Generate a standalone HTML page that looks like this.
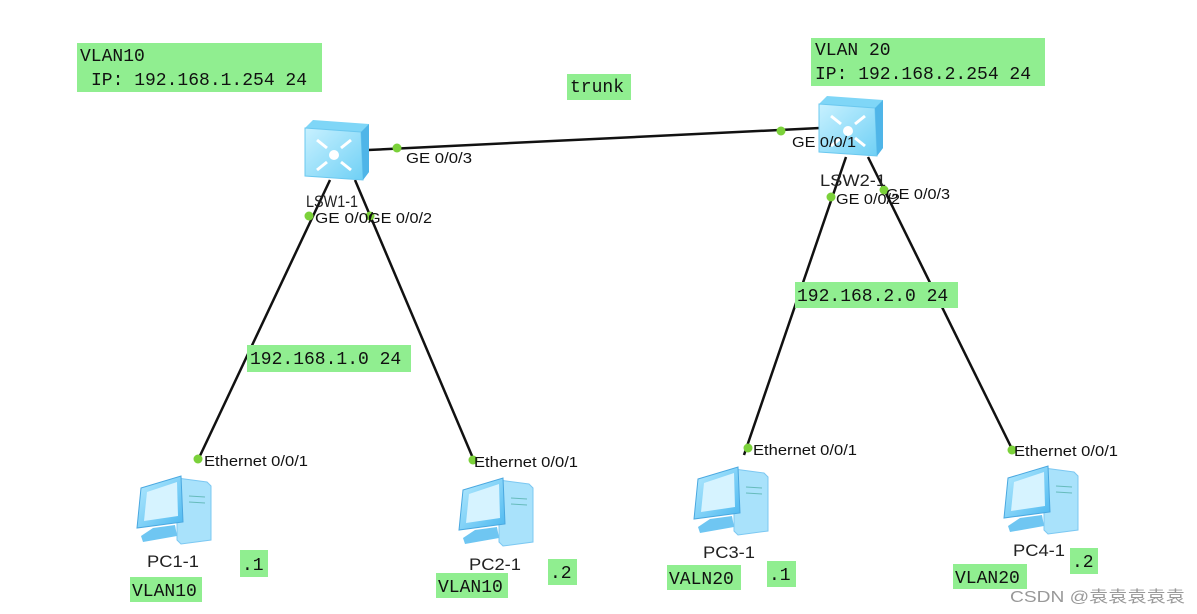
<!DOCTYPE html>
<html><head><meta charset="utf-8"><style>
html,body{margin:0;padding:0;background:#fff;}
svg{display:block;}
.m{font-family:"Liberation Mono",monospace;font-size:18px;fill:#111;}
.s{font-family:"Liberation Sans",sans-serif;font-size:15px;fill:#111;}
.p{font-family:"Liberation Sans",sans-serif;font-size:17px;fill:#222;}
.g{fill:#90ee90;}
</style></head><body>
<svg width="1197" height="614" viewBox="0 0 1197 614" xmlns="http://www.w3.org/2000/svg">
<defs>
<linearGradient id="sw" x1="0" y1="0" x2="1" y2="1"><stop offset="0" stop-color="#c8f1ff"/><stop offset="1" stop-color="#6fd0f5"/></linearGradient>
<linearGradient id="pcg" x1="0" y1="0" x2="1" y2="1"><stop offset="0" stop-color="#b8ecff"/><stop offset="1" stop-color="#4cb8f0"/></linearGradient>
<g id="pc">
<polygon points="44,8 74,12 78,16 78,70 48,74 44,70" fill="#a9e2fb" stroke="#7cc8f2"/>
<line x1="56" y1="26" x2="72" y2="27" stroke="#6bb" /><line x1="56" y1="32" x2="72" y2="33" stroke="#6bb"/>
<polygon points="8,18 48,6 50,52 4,58" fill="url(#pcg)" stroke="#4aa8e0"/>
<polygon points="14,22 44,12 45,46 11,51" fill="#d6f3ff"/>
<polygon points="20,58 42,55 44,66 10,72 8,66" fill="#6fc6f2"/>
</g>
<g id="sw1">
<polygon points="0,8 8,0 64,4 64,52 58,60 0,56" fill="#7fd6f7"/>
<polygon points="0,8 56,12 58,60 0,56" fill="url(#sw)" stroke="#6bc8ef"/>
<polygon points="56,12 64,4 64,52 58,60" fill="#4fb5e8"/>
<circle cx="29" cy="35" r="5" fill="#fff"/>
<path d="M12,20 l10,8 M12,50 l10,-8 M46,20 l-10,8 M46,50 l-10,-8" stroke="#fff" stroke-width="3"/>
</g>
</defs>
<g stroke="#111" stroke-width="2.5">
<line x1="368" y1="150" x2="820" y2="128"/>
<line x1="330" y1="180" x2="198" y2="460"/>
<line x1="355" y1="180" x2="475" y2="463"/>
<line x1="846" y1="157" x2="744" y2="455"/>
<line x1="868" y1="157" x2="1014" y2="453"/>
</g>
<use href="#sw1" x="305" y="120"/>
<use href="#sw1" x="819" y="96"/>
<use href="#pc" x="133" y="470"/>
<use href="#pc" x="455" y="472"/>
<use href="#pc" x="690" y="461"/>
<use href="#pc" x="1000" y="460"/>
<g fill="#7bd13a">
<circle cx="397" cy="148" r="4.5"/><circle cx="781" cy="131" r="4.5"/>
<circle cx="309" cy="216" r="4.5"/><circle cx="370" cy="216" r="4.5"/>
<circle cx="831" cy="197" r="4.5"/><circle cx="884" cy="190" r="4.5"/>
<circle cx="198" cy="459" r="4.5"/><circle cx="473" cy="460" r="4.5"/>
<circle cx="748" cy="448" r="4.5"/><circle cx="1012" cy="450" r="4.5"/>
</g>
<text class="s" x="406" y="163" textLength="66" lengthAdjust="spacingAndGlyphs">GE 0/0/3</text>
<text class="s" x="792" y="147" textLength="64" lengthAdjust="spacingAndGlyphs">GE 0/0/1</text>
<text class="s" x="315" y="223" textLength="58" lengthAdjust="spacingAndGlyphs">GE 0/0/</text>
<text class="s" x="368" y="223" textLength="64" lengthAdjust="spacingAndGlyphs">GE 0/0/2</text>
<text class="s" x="836" y="204" textLength="64" lengthAdjust="spacingAndGlyphs">GE 0/0/2</text>
<text class="s" x="886" y="199" textLength="64" lengthAdjust="spacingAndGlyphs">GE 0/0/3</text>
<text class="s" x="204" y="466" textLength="104" lengthAdjust="spacingAndGlyphs">Ethernet 0/0/1</text>
<text class="s" x="474" y="467" textLength="104" lengthAdjust="spacingAndGlyphs">Ethernet 0/0/1</text>
<text class="s" x="753" y="455" textLength="104" lengthAdjust="spacingAndGlyphs">Ethernet 0/0/1</text>
<text class="s" x="1014" y="456" textLength="104" lengthAdjust="spacingAndGlyphs">Ethernet 0/0/1</text>
<text class="p" x="306" y="207" textLength="52" lengthAdjust="spacingAndGlyphs">LSW1-1</text>
<text class="p" x="820" y="186" textLength="66" lengthAdjust="spacingAndGlyphs">LSW2-1</text>
<text class="p" x="147" y="567" textLength="52" lengthAdjust="spacingAndGlyphs">PC1-1</text>
<text class="p" x="469" y="570" textLength="52" lengthAdjust="spacingAndGlyphs">PC2-1</text>
<text class="p" x="703" y="558" textLength="52" lengthAdjust="spacingAndGlyphs">PC3-1</text>
<text class="p" x="1013" y="556" textLength="52" lengthAdjust="spacingAndGlyphs">PC4-1</text>
<rect class="g" x="77" y="43" width="245" height="49"/>
<text class="m" x="80" y="61">VLAN10</text><text class="m" x="91" y="85">IP: 192.168.1.254 24</text>
<rect class="g" x="811" y="38" width="234" height="48"/>
<text class="m" x="815" y="55">VLAN 20</text><text class="m" x="815" y="79">IP: 192.168.2.254 24</text>
<rect class="g" x="567" y="74" width="64" height="26"/><text class="m" x="570" y="92">trunk</text>
<rect class="g" x="247" y="345" width="164" height="27"/><text class="m" x="250" y="364">192.168.1.0 24</text>
<rect class="g" x="795" y="282" width="163" height="26"/><text class="m" x="797" y="301">192.168.2.0 24</text>
<rect class="g" x="240" y="550" width="28" height="27"/><text class="m" x="242" y="570">.1</text>
<rect class="g" x="130" y="577" width="72" height="25"/><text class="m" x="132" y="596">VLAN10</text>
<rect class="g" x="548" y="559" width="29" height="26"/><text class="m" x="550" y="578">.2</text>
<rect class="g" x="436" y="573" width="72" height="25"/><text class="m" x="438" y="592">VLAN10</text>
<rect class="g" x="667" y="565" width="74" height="25"/><text class="m" x="669" y="584">VALN20</text>
<rect class="g" x="767" y="561" width="29" height="26"/><text class="m" x="769" y="580">.1</text>
<rect class="g" x="953" y="564" width="74" height="25"/><text class="m" x="955" y="583">VLAN20</text>
<rect class="g" x="1070" y="548" width="28" height="26"/><text class="m" x="1072" y="567">.2</text>
<text x="1010" y="602" font-family="Liberation Sans, Noto Sans CJK SC, sans-serif" font-size="16" fill="#999" textLength="175" lengthAdjust="spacingAndGlyphs">CSDN @袁袁袁袁袁</text>
</svg>
</body></html>
